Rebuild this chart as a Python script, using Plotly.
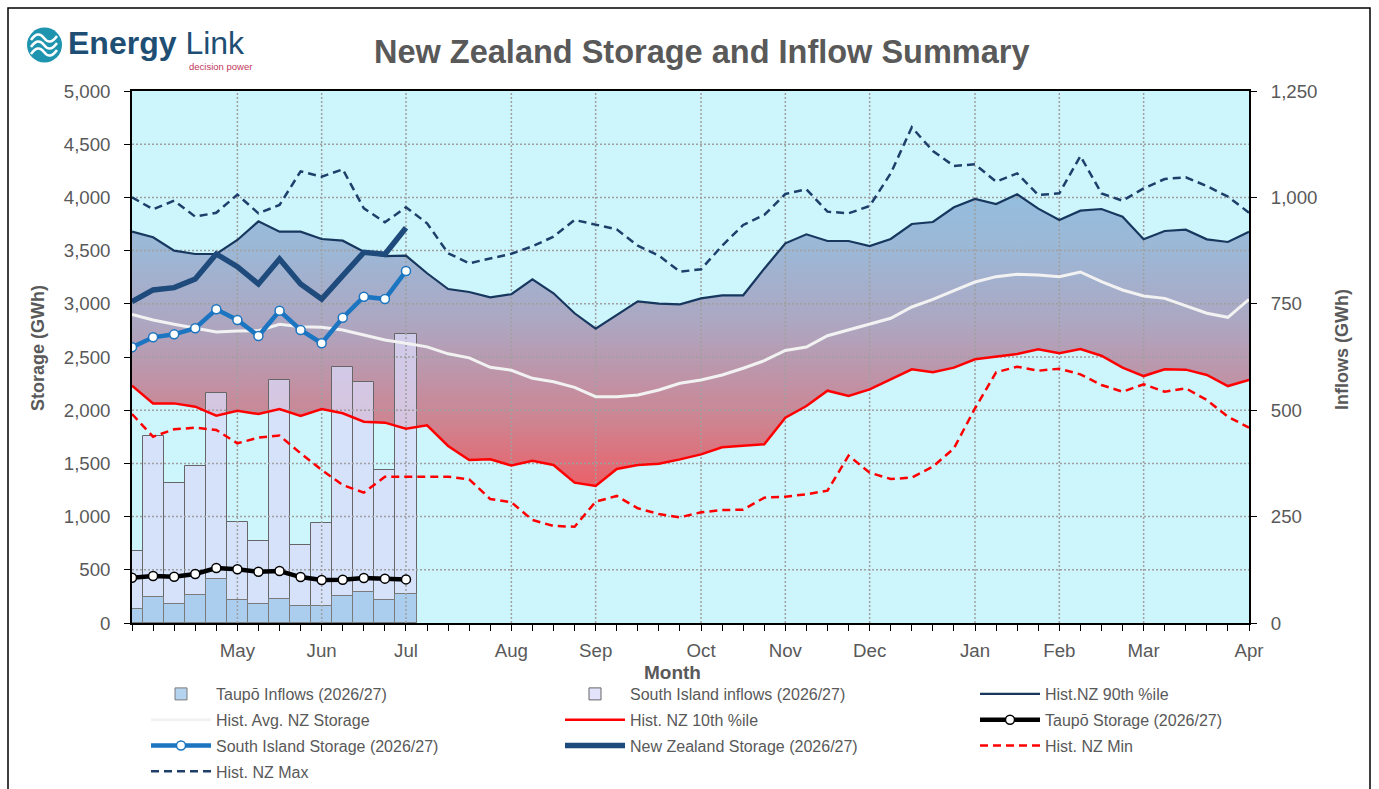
import plotly.graph_objects as go

# ---------------- data ----------------
weeks = list(range(54))
month_labels = ["May", "Jun", "Jul", "Aug", "Sep", "Oct", "Nov", "Dec", "Jan", "Feb", "Mar", "Apr"]
month_weeks = [5, 9, 13, 18, 22, 27, 31, 35, 40, 44, 48, 53]
storage_ticks = list(range(0, 5001, 500))
inflow_ticks = list(range(0, 1251, 250))

hist_p90 = [3678, 3625, 3499, 3468, 3468, 3600, 3775, 3678, 3678, 3609, 3593, 3490, 3449, 3452,
            3287, 3139, 3111, 3061, 3090, 3230, 3099, 2911, 2766, 2892, 3023, 3001, 2995, 3051,
            3080, 3080, 3330, 3568, 3653, 3590, 3590, 3543, 3609, 3750, 3769, 3907, 3985, 3938,
            4029, 3894, 3788, 3875, 3891, 3819, 3606, 3684, 3697, 3606, 3581, 3678]
hist_max = [4001, 3888, 3969, 3819, 3856, 4026, 3850, 3929, 4245, 4195, 4264, 3897, 3766, 3907,
            3757, 3475, 3381, 3428, 3470, 3540, 3631, 3788, 3747, 3700, 3546, 3453, 3302, 3324,
            3546, 3741, 3835, 4032, 4076, 3866, 3850, 3919, 4226, 4659, 4436, 4295, 4311, 4148,
            4226, 4023, 4038, 4389, 4038, 3969, 4085, 4173, 4189, 4107, 4007, 3856]
hist_avg = [2901, 2848, 2807, 2770, 2735, 2744, 2747, 2807, 2785, 2779, 2754, 2707, 2660, 2629,
            2595, 2530, 2492, 2403, 2375, 2300, 2268, 2215, 2127, 2127, 2143, 2190, 2253, 2284,
            2331, 2394, 2465, 2562, 2594, 2700, 2754, 2807, 2864, 2970, 3042, 3123, 3205, 3255,
            3277, 3271, 3255, 3299, 3208, 3130, 3073, 3051, 2982, 2911, 2873, 3042]
hist_p10 = [2230, 2064, 2064, 2033, 1948, 1995, 1964, 2011, 1945, 2011, 1971, 1892, 1883, 1826,
            1858, 1664, 1532, 1538, 1480, 1525, 1485, 1319, 1288, 1447, 1485, 1497, 1538, 1585,
            1651, 1664, 1679, 1930, 2039, 2183, 2133, 2196, 2293, 2384, 2356, 2400, 2478, 2503,
            2528, 2572, 2535, 2575, 2512, 2400, 2321, 2384, 2381, 2331, 2227, 2284]
hist_min = [1964, 1751, 1820, 1836, 1814, 1689, 1742, 1761, 1595, 1438, 1297, 1225, 1375, 1375,
            1382, 1375, 1350, 1165, 1135, 968, 912, 905, 1140, 1194, 1078, 1024, 993, 1040,
            1062, 1065, 1178, 1187, 1210, 1244, 1573, 1413, 1353, 1367, 1469, 1642, 2018, 2356,
            2409, 2371, 2390, 2337, 2237, 2174, 2243, 2174, 2206, 2096, 1939, 1836]

nz_storage = [3020, 3130, 3152, 3233, 3468, 3349, 3186, 3421, 3186, 3045, 3264, 3484, 3465, 3715]
si_storage = [2591, 2685, 2713, 2770, 2948, 2848, 2697, 2935, 2754, 2629, 2869, 3067, 3045, 3308]
taupo_storage = [426, 442, 435, 461, 517, 505, 482, 489, 432, 404, 407, 423, 417, 410]

si_inflows = [170, 439, 328, 370, 541, 237, 192, 570, 183, 234, 601, 567, 359, 678]
taupo_inflows = [34, 60, 45, 66, 104, 55, 45, 56, 39, 40, 63, 74, 53, 69]

# ---------------- helpers (pixel -> paper) ----------------
W, H = 1379, 789
L, R, T, B = 132, 1249, 91, 623


def px(x):
    return (x - L) / (R - L)


def py(y):
    return (B - y) / (B - T)


FONT = "Liberation Sans, Arial, sans-serif"
GREY = "#595959"

fig = go.Figure()

# gradient band between 10th and 90th percentile
fig.add_trace(go.Scatter(x=weeks, y=hist_p10, mode="lines", line=dict(width=0),
                         showlegend=False, hoverinfo="skip", yaxis="y"))
a = 0.85
fig.add_trace(go.Scatter(
    x=weeks, y=hist_p90, mode="lines", line=dict(width=0), fill="tonexty",
    fillgradient=dict(type="vertical", start=min(hist_p10), stop=max(hist_p90),
                      colorscale=[[0.0, f"rgba(240,70,78,{a})"],
                                  [0.22, f"rgba(206,112,126,{a})"],
                                  [0.55, f"rgba(168,152,182,{a})"],
                                  [0.8, f"rgba(148,172,207,{a})"],
                                  [1.0, f"rgba(138,180,216,{a})"]]),
    showlegend=False, hoverinfo="skip", yaxis="y"))

# inflow bars (right axis)
nb = len(si_inflows)
fig.add_trace(go.Bar(x=weeks[:nb], y=si_inflows, yaxis="y2", width=1,
                     name="South Island inflows (2026/27)", legend="legend2",
                     legendgroup="si_in", legendrank=1,
                     marker=dict(color="rgba(217,217,250,0.75)", line=dict(color="#666666", width=1))))
fig.add_trace(go.Bar(x=weeks[:nb], y=taupo_inflows, yaxis="y2", width=1,
                     name="Taupō Inflows (2026/27)", legend="legend",
                     legendgroup="tp_in", legendrank=1,
                     marker=dict(color="rgba(160,200,235,0.8)", line=dict(color="#7A7A7A", width=1))))

# dotted gridlines built from tick arrays (drawn above fill/bars, below lines)
gx, gy = [], []
for v in storage_ticks[1:-1]:
    gx += [weeks[0], weeks[-1], None]
    gy += [v, v, None]
for m in month_weeks[:-1]:
    gx += [m, m, None]
    gy += [storage_ticks[0], storage_ticks[-1], None]
fig.add_trace(go.Scatter(x=gx, y=gy, mode="lines", yaxis="y3", showlegend=False, hoverinfo="skip",
                         line=dict(color="#A0A0A0", width=1.5, dash="2px,2px")))

# historical lines
fig.add_trace(go.Scatter(x=weeks, y=hist_max, mode="lines", yaxis="y3", name="Hist. NZ Max",
                         legend="legend", legendgroup="max", legendrank=4,
                         line=dict(color="#1F3F6B", width=2.5, dash="8px,5px")))
fig.add_trace(go.Scatter(x=weeks, y=hist_min, mode="lines", yaxis="y3", name="Hist. NZ Min",
                         legend="legend3", legendgroup="min", legendrank=3,
                         line=dict(color="#FF0000", width=2.5, dash="8px,5px")))
fig.add_trace(go.Scatter(x=weeks, y=hist_avg, mode="lines", yaxis="y3", name="Hist. Avg. NZ Storage",
                         legend="legend", legendgroup="avg", legendrank=2,
                         line=dict(color="#F2F2F2", width=3)))
fig.add_trace(go.Scatter(x=weeks, y=hist_p10, mode="lines", yaxis="y3", name="Hist. NZ 10th %ile",
                         legend="legend2", legendgroup="p10", legendrank=2,
                         line=dict(color="#FF0000", width=2.5)))
fig.add_trace(go.Scatter(x=weeks, y=hist_p90, mode="lines", yaxis="y3", name="Hist.NZ 90th %ile",
                         legend="legend3", legendgroup="p90", legendrank=1,
                         line=dict(color="#17375E", width=2.2)))

# current year storage
ns = len(nz_storage)
fig.add_trace(go.Scatter(x=weeks[:ns], y=taupo_storage, mode="lines+markers", yaxis="y3",
                         name="Taupō Storage (2026/27)", legend="legend3", legendgroup="tp_st",
                         legendrank=2,
                         line=dict(color="black", width=4.5),
                         marker=dict(size=9, color="white", line=dict(color="black", width=1.5))))
fig.add_trace(go.Scatter(x=weeks[:ns], y=si_storage, mode="lines+markers", yaxis="y3",
                         name="South Island Storage (2026/27)", legend="legend", legendgroup="si_st",
                         legendrank=3,
                         line=dict(color="#1B75C0", width=4.5),
                         marker=dict(size=9, color="white", line=dict(color="#1B75C0", width=1.5))))
fig.add_trace(go.Scatter(x=weeks[:ns], y=nz_storage, mode="lines", yaxis="y3",
                         name="New Zealand Storage (2026/27)", legend="legend2", legendgroup="nz_st",
                         legendrank=3,
                         line=dict(color="#1F4A7C", width=5.5)))

tickfont = dict(family=FONT, size=18.7, color=GREY)
leg_common = dict(orientation="v", xanchor="left", yanchor="top", bgcolor="rgba(0,0,0,0)",
                  font=dict(family=FONT, size=16, color=GREY), tracegroupgap=2,
                  traceorder="grouped", itemwidth=60)

fig.update_layout(
    width=W, height=H,
    margin=dict(l=L, r=W - R, t=T, b=H - B, pad=0, autoexpand=False),
    paper_bgcolor="white", plot_bgcolor="#CCF5FC",
    barmode="overlay", bargap=0,
    xaxis=dict(range=[weeks[0], weeks[-1]], tickmode="array", tickvals=month_weeks,
               ticktext=month_labels, ticks="outside", ticklen=6, tickwidth=1, tickcolor="black",
               showline=True, linecolor="black", linewidth=2, mirror=True,
               showgrid=False, zeroline=False, tickfont=tickfont, ticklabelstandoff=4,
               minor=dict(ticks="outside", ticklen=6, tickcolor="black", tickwidth=1,
                          dtick=1, tick0=0, showgrid=False)),
    yaxis=dict(range=[storage_ticks[0], storage_ticks[-1]], tickmode="array", tickvals=storage_ticks,
               tickformat=",", ticks="outside", ticklen=6, tickcolor="black",
               showline=True, linecolor="black", linewidth=1.5, showgrid=False, zeroline=False,
               tickfont=tickfont, ticklabelstandoff=10),
    yaxis2=dict(range=[inflow_ticks[0], inflow_ticks[-1]], overlaying="y", side="right",
                tickmode="array", tickvals=inflow_ticks, tickformat=",", ticks="outside",
                ticklen=6, tickcolor="black", showline=True, linecolor="black", linewidth=2,
                showgrid=False, zeroline=False, tickfont=tickfont, ticklabelstandoff=10),
    yaxis3=dict(range=[storage_ticks[0], storage_ticks[-1]], overlaying="y", visible=False),
    legend=dict(x=px(146), y=py(677), **leg_common),
    legend2=dict(x=px(560), y=py(677), **leg_common),
    legend3=dict(x=px(975), y=py(677), **leg_common),
)

# titles
ann = [
    dict(text="<b>New Zealand Storage and Inflow Summary</b>", x=px(702), y=py(52),
         font=dict(family=FONT, size=32.5, color=GREY)),
    dict(text="<b>Storage (GWh)</b>", x=px(38), y=py(348), textangle=-90,
         font=dict(family=FONT, size=18, color=GREY)),
    dict(text="<b>Inflows (GWh)</b>", x=px(1342), y=py(350), textangle=-90,
         font=dict(family=FONT, size=18, color=GREY)),
    dict(text="<b>Month</b>", x=px(672), y=py(672),
         font=dict(family=FONT, size=19, color=GREY)),
    dict(text="<b>Energy</b> Link", x=px(66), y=py(43), xanchor="left",
         font=dict(family=FONT, size=32, color="#1E4E73")),
    dict(text="decision power", x=px(187), y=py(67), xanchor="left",
         font=dict(family=FONT, size=9.5, color="#C2375C")),
]
for a_ in ann:
    a_.setdefault("xanchor", "center")
    fig.add_annotation(xref="paper", yref="paper", yanchor="middle", showarrow=False, **a_)

# outer border and logo icon
shapes = [
    dict(type="rect", xref="paper", yref="paper", x0=px(8), x1=px(1370), y0=py(8), y1=py(800),
         line=dict(color="black", width=1.5), fillcolor="rgba(0,0,0,0)", layer="above"),
    dict(type="circle", xref="paper", yref="paper", x0=px(27), x1=px(62), y0=py(27.5), y1=py(62.5),
         line=dict(width=0), fillcolor="#1E94AE"),
]
for off in (-7, 0, 7):
    pts = [(31, 47 + off), (38, 37 + off), (44, 45 + off), (57, 43 + off)]
    p = "M{},{} Q{},{} {},{} T{},{}".format(
        px(pts[0][0]), py(pts[0][1]), px(pts[1][0]), py(pts[1][1]),
        px(pts[2][0]), py(pts[2][1]), px(pts[3][0]), py(pts[3][1]))
    shapes.append(dict(type="path", xref="paper", yref="paper", path=p,
                       line=dict(color="white", width=2.5)))
fig.update_layout(shapes=shapes)

fig.write_html("out.html", config={"displayModeBar": False},
               post_script="document.body.style.margin='0';document.body.style.overflow='hidden';")
